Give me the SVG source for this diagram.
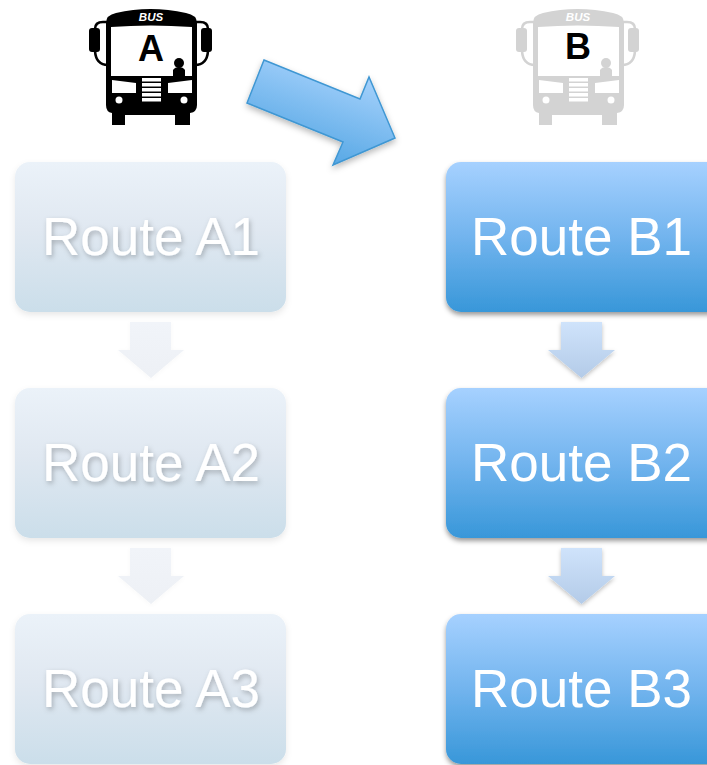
<svg xmlns="http://www.w3.org/2000/svg" width="707" height="765" viewBox="0 0 707 765">
<style>
.lbl{font-family:"Liberation Sans",Arial,sans-serif;font-size:53px;fill:#fff;text-anchor:middle}
.fa{filter:url(#ts)}
.letter{font-family:"Liberation Sans",Arial,sans-serif;font-size:36px;font-weight:bold;fill:#000;text-anchor:middle}
</style>
<defs>
<linearGradient id="gb" x1="0" y1="0" x2="0" y2="1"><stop offset="0" stop-color="#a6d1ff"/><stop offset=".5" stop-color="#72b4ee"/><stop offset="1" stop-color="#3897d9"/></linearGradient>
<linearGradient id="ga" x1="0" y1="0" x2="0" y2="1"><stop offset="0" stop-color="#ebf2f9"/><stop offset=".45" stop-color="#e0e8f1"/><stop offset="1" stop-color="#cbdeea"/></linearGradient>
<linearGradient id="gsb" x1="0" y1="0" x2="0" y2="1"><stop offset="0" stop-color="#cfe3fb"/><stop offset="1" stop-color="#b3cbe8"/></linearGradient>
<linearGradient id="gsa" x1="0" y1="0" x2="0" y2="1"><stop offset="0" stop-color="#f1f4f9"/><stop offset="1" stop-color="#edf0f5"/></linearGradient>
<linearGradient id="gbig" x1=".75" y1=".15" x2=".35" y2="1"><stop offset="0" stop-color="#a3d0fb"/><stop offset="1" stop-color="#4ea3e2"/></linearGradient>
<filter id="sb" x="-10%" y="-10%" width="120%" height="125%"><feDropShadow dx="0" dy="3" stdDeviation="2.5" flood-color="#000" flood-opacity=".4"/></filter>
<filter id="sa" x="-10%" y="-10%" width="120%" height="125%"><feDropShadow dx="0" dy="3" stdDeviation="3" flood-color="#000" flood-opacity=".09"/></filter>
<filter id="ss" x="-20%" y="-20%" width="140%" height="140%"><feDropShadow dx="0" dy="2" stdDeviation="2" flood-color="#000" flood-opacity=".25"/></filter>
<filter id="ssa" x="-20%" y="-20%" width="140%" height="140%"><feDropShadow dx="0" dy="1" stdDeviation="2" flood-color="#000" flood-opacity=".03"/></filter>
<filter id="ts" x="-10%" y="-20%" width="120%" height="150%"><feDropShadow dx="1.5" dy="2.5" stdDeviation="2.5" flood-color="#000" flood-opacity=".25"/></filter>
<filter id="sbig" x="-15%" y="-15%" width="130%" height="130%"><feDropShadow dx="0" dy="3" stdDeviation="3" flood-color="#000" flood-opacity=".28"/></filter>
<symbol id="bus" viewBox="0 0 140 135" width="140" height="135" overflow="visible">
<g fill="none" stroke="currentColor" stroke-width="2.6"><path d="M15 29 Q15 22 23 22 L28 22"/><path d="M15 51 Q16 65 28 65"/><path d="M128 29 Q128 22 120 22 L115 22"/><path d="M128 51 Q127 65 115 65"/></g>
<rect x="9" y="28" width="11" height="24" rx="3" fill="currentColor"/>
<rect x="121" y="28" width="11" height="24" rx="3" fill="currentColor"/>
<path fill="currentColor" d="M26 23 Q26 15 36 13 Q70 5 106 13 Q117 15 117 23 L117 105 Q117 112 110 113 L110 125 L95 125 L95 115 L45 115 L45 125 L32 125 L32 113 Q26 112 26 105 Z"/>
<path fill="#fff" d="M31 27 Q70 24 112 27 L112 76 L31 76 Z"/>
<g fill="#fff"><path d="M32 80 L56 83 L56 93 L32 93 Z"/><path d="M112 80 L88 83 L88 93 L112 93 Z"/>
<rect x="62" y="78" width="19" height="3.500"/><rect x="62" y="83" width="19" height="3.500"/><rect x="62" y="88" width="19" height="3.500"/><rect x="62" y="93" width="19" height="3.500"/><rect x="62" y="98" width="19" height="3.500"/>
<circle cx="39" cy="100" r="3.500"/><circle cx="104" cy="100" r="3.500"/></g>
<circle cx="99" cy="63" r="5" fill="currentColor"/>
<path fill="currentColor" d="M93 77 L93 70 Q95 67 99 67 Q103 67 105 70 L105 77 Z"/>
<text x="71" y="21" style="font-family:'Liberation Sans',Arial,sans-serif;font-size:11.500px;font-weight:bold;font-style:italic;text-anchor:middle;fill:#fff">BUS</text>
</symbol>
</defs>
<g id="bus-a" style="color:#000"><use href="#bus" x="80" y="0"/><text class="letter" x="151" y="61">A</text></g>
<g id="bus-b" style="color:#d3d3d3"><use href="#bus" x="507" y="0"/><text class="letter" x="578" y="59">B</text></g>
<g id="connectors">
<path id="switch-arrow" d="M264 60 L360 99 L369 77 L395 138 L333 165 L343 142 L247 103 Z" fill="url(#gbig)" stroke="#3f97d3" stroke-width="1.500" filter="url(#sbig)"/>
<path d="M130 322 H171 V350 H184 L151 378 L118 350 H130 Z" fill="url(#gsa)" filter="url(#ssa)"/>
<path d="M130 548 H171 V576 H184 L151 604 L118 576 H130 Z" fill="url(#gsa)" filter="url(#ssa)"/>
<path d="M561 322 H602 V350 H615 L581.500 378 L548 350 H561 Z" fill="url(#gsb)" filter="url(#ss)"/>
<path d="M561 548 H602 V576 H615 L581.500 604 L548 576 H561 Z" fill="url(#gsb)" filter="url(#ss)"/>
</g>
<g id="route-a1"><rect x="15" y="162" width="271" height="150" rx="15" fill="url(#ga)" filter="url(#sa)"/><text class="lbl fa" x="151" y="255">Route A1</text></g>
<g id="route-a2"><rect x="15" y="388" width="271" height="150" rx="15" fill="url(#ga)" filter="url(#sa)"/><text class="lbl fa" x="151" y="481">Route A2</text></g>
<g id="route-a3"><rect x="15" y="614" width="271" height="150" rx="15" fill="url(#ga)" filter="url(#sa)"/><text class="lbl fa" x="151" y="707">Route A3</text></g>
<g id="route-b1"><rect x="446" y="162" width="280" height="150" rx="15" fill="url(#gb)" filter="url(#sb)"/><text class="lbl" x="581.500" y="255">Route B1</text></g>
<g id="route-b2"><rect x="446" y="388" width="280" height="150" rx="15" fill="url(#gb)" filter="url(#sb)"/><text class="lbl" x="581.500" y="481">Route B2</text></g>
<g id="route-b3"><rect x="446" y="614" width="280" height="150" rx="15" fill="url(#gb)" filter="url(#sb)"/><text class="lbl" x="581.500" y="707">Route B3</text></g>
</svg>
